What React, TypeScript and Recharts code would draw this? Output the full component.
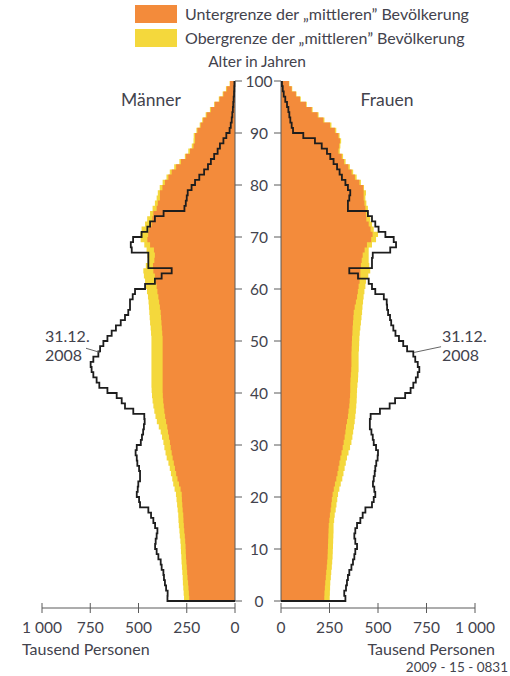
import { ComposedChart, Area, Line, XAxis, YAxis, ReferenceLine } from 'recharts'

// Altersjahre 0..99, je ein Wert pro Jahrgang (Tausend Personen)
const MEN_LOW = [
  237, 239, 241, 243, 246, 248, 250, 252, 254, 255,
  256, 258, 260, 263, 265, 267, 268, 271, 273, 275,
  276, 282, 290, 298, 305, 311, 317, 323, 328, 333,
  337, 342, 347, 351, 357, 362, 366, 369, 372, 374,
  375, 375, 375, 375, 375, 375, 375, 375, 375, 375,
  375, 377, 379, 381, 383, 385, 389, 393, 397, 402,
  406, 410, 415, 423, 425, 418, 415, 420, 440, 454,
  450, 445, 432, 428, 423, 406, 400, 389, 389, 376,
  363, 345, 328, 305, 280, 255, 233, 215, 207, 207,
  195, 178, 165, 147, 125, 105, 80, 60, 43, 26,
]
const MEN_HIGH = [
  264, 266, 268, 270, 271, 273, 275, 277, 278, 280,
  281, 283, 286, 288, 291, 293, 294, 297, 300, 303,
  306, 313, 320, 325, 332, 338, 345, 354, 360, 366,
  371, 378, 385, 395, 405, 412, 418, 423, 427, 430,
  432, 433, 433, 433, 433, 433, 433, 433, 433, 433,
  433, 435, 437, 440, 442, 444, 446, 448, 451, 456,
  461, 466, 472, 475, 462, 452, 454, 458, 470, 489,
  490, 484, 466, 455, 440, 427, 415, 406, 400, 390,
  375, 355, 338, 315, 288, 260, 242, 224, 215, 214,
  200, 183, 170, 152, 130, 108, 84, 64, 47, 28,
]
const MEN_2008 = [
  350, 349, 357, 363, 368, 371, 380, 385, 397, 406,
  414, 411, 406, 402, 414, 423, 435, 449, 492, 497,
  509, 504, 501, 492, 492, 497, 506, 509, 515, 509,
  488, 482, 476, 472, 468, 470, 527, 570, 587, 613,
  661, 703, 717, 734, 743, 748, 734, 708, 699, 682,
  661, 639, 617, 592, 570, 553, 544, 544, 530, 518,
  466, 415, 380, 328, 449, 449, 449, 535, 540, 528,
  484, 454, 440, 415, 370, 262, 255, 250, 245, 225,
  207, 185, 160, 140, 125, 108, 90, 78, 60, 45,
  28, 22, 17, 14, 11, 9, 7, 5, 4, 3,
]
const WOMEN_LOW = [
  223, 224, 226, 228, 231, 233, 236, 238, 240, 241,
  242, 243, 244, 245, 246, 249, 252, 256, 259, 262,
  266, 272, 278, 285, 291, 296, 301, 306, 312, 318,
  323, 328, 332, 335, 340, 345, 348, 352, 354, 356,
  357, 357, 358, 360, 362, 363, 363, 363, 364, 365,
  366, 368, 369, 371, 373, 375, 380, 386, 392, 396,
  400, 405, 409, 409, 412, 416, 421, 431, 443, 465,
  472, 462, 452, 440, 438, 435, 430, 426, 426, 424,
  404, 381, 364, 347, 325, 313, 296, 300, 304, 296,
  278, 253, 218, 189, 158, 129, 98, 77, 55, 41,
]
const WOMEN_HIGH = [
  251, 252, 253, 254, 257, 259, 262, 264, 266, 267,
  268, 269, 270, 271, 271, 274, 277, 282, 286, 290,
  294, 301, 308, 316, 322, 328, 334, 340, 348, 356,
  363, 368, 372, 376, 380, 383, 386, 388, 390, 391,
  392, 394, 397, 398, 400, 400, 400, 400, 402, 403,
  404, 406, 409, 412, 415, 418, 420, 423, 426, 430,
  435, 438, 450, 460, 455, 452, 452, 452, 469, 490,
  500, 478, 469, 460, 450, 448, 440, 435, 438, 428,
  412, 390, 372, 355, 333, 320, 303, 306, 310, 302,
  285, 260, 224, 194, 163, 133, 102, 80, 58, 43,
]
const WOMEN_2008 = [
  332, 326, 335, 340, 345, 352, 363, 371, 378, 383,
  392, 383, 378, 383, 392, 409, 421, 435, 469, 478,
  486, 481, 474, 478, 483, 486, 491, 498, 500, 490,
  478, 473, 466, 458, 458, 462, 510, 560, 588, 640,
  668, 682, 695, 705, 713, 705, 692, 682, 650, 630,
  608, 590, 579, 568, 562, 552, 547, 545, 530, 486,
  469, 452, 397, 352, 469, 469, 473, 563, 593, 581,
  538, 503, 486, 469, 448, 345, 345, 352, 357, 345,
  332, 314, 302, 289, 271, 254, 237, 210, 175, 115,
  62, 55, 48, 43, 38, 31, 22, 14, 9, 5,
]

const AGE_TICKS = [0, 10, 20, 30, 40, 50, 60, 70, 80, 90, 100]
const VALUE_TICKS = [0, 250, 500, 750, 1000]

const ORANGE = '#f38b3b'
const YELLOW = '#f4d83c'
const AXIS = '#5a5a5a'
const TEXT = '#43434d'
const FONT = 'Lato, "Noto Sans", sans-serif'

// each age group becomes two rows (lower and upper edge) so the outline is a step;
// the outline starts on the axis at age 0 like in the print version
function toSteps(low: number[], high: number[], pop: number[]) {
  const rows: { age: number; low: number; high: number; pop: number }[] = [
    { age: 0, low: 0, high: 0, pop: 0 },
  ]
  low.forEach((_, i) => {
    rows.push({ age: i, low: low[i], high: high[i], pop: pop[i] })
    rows.push({ age: i + 1, low: low[i], high: high[i], pop: pop[i] })
  })
  return rows
}

const menRows = toSteps(MEN_LOW, MEN_HIGH, MEN_2008)
const womenRows = toSteps(WOMEN_LOW, WOMEN_HIGH, WOMEN_2008)

const fmt = (v: number) => (v >= 1000 ? '1\u00a0000' : String(v))

function ValueTick(props: any) {
  const { x, y, payload } = props
  return (
    <g>
      <line x1={x} x2={x} y1={y - 5} y2={y + 5} stroke={AXIS} strokeWidth={1} />
      <text x={x} y={y + 25} textAnchor="middle" fill={TEXT} fontSize={15.5} fontFamily={FONT}>
        {fmt(payload.value)}
      </text>
    </g>
  )
}

function AgeTickLeft(props: any) {
  const { x, y, payload } = props
  return (
    <g>
      <line x1={x} x2={x + 7} y1={y} y2={y} stroke={AXIS} strokeWidth={1} />
      <text x={x + 24} y={y} dy="0.36em" textAnchor="middle" fill={TEXT} fontSize={15.5} fontFamily={FONT}>
        {payload.value}
      </text>
    </g>
  )
}

function AgeTickRight(props: any) {
  const { x, y } = props
  return <line x1={x - 7} x2={x} y1={y} y2={y} stroke={AXIS} strokeWidth={1} />
}

function Panel({ rows, side }: { rows: any[]; side: 'left' | 'right' }) {
  const left = side === 'left'
  return (
    <ComposedChart
      layout="vertical"
      width={left ? 290 : 270}
      height={676}
      data={rows}
      margin={left ? { top: 81, right: 15, bottom: 0, left: 42 } : { top: 81, right: 35, bottom: 0, left: 0 }}
    >
      <XAxis
        type="number"
        domain={[0, 1000]}
        ticks={VALUE_TICKS}
        reversed={left}
        interval={0}
        height={68}
        axisLine={{ stroke: AXIS }}
        tickLine={false}
        tickSize={0}
        tickMargin={0}
        tick={<ValueTick />}
      />
      <YAxis
        type="number"
        dataKey="age"
        domain={[0, 100]}
        ticks={AGE_TICKS}
        interval={0}
        reversed
        orientation={left ? 'right' : 'left'}
        width={left ? 40 : 41}
        padding={{ top: 0, bottom: 7 }}
        axisLine={false}
        tickLine={false}
        tickSize={0}
        tickMargin={0}
        tick={left ? <AgeTickLeft /> : <AgeTickRight />}
      />
      <Area type="linear" dataKey="high" fill={YELLOW} fillOpacity={1} stroke="none" isAnimationActive={false} />
      <Area type="linear" dataKey="low" fill={ORANGE} fillOpacity={1} stroke="none" isAnimationActive={false} />
      <ReferenceLine segment={[{ x: 0, y: 0 }, { x: 0, y: 100 }]} stroke={AXIS} strokeWidth={1} />
      <Line
        type="linear"
        dataKey="pop"
        stroke="#1d1d1d"
        strokeWidth={1.8}
        dot={false}
        activeDot={false}
        isAnimationActive={false}
      />
      {left ? (
        <ReferenceLine segment={[{ x: 772, y: 48.6 }, { x: 699, y: 47.8 }]} stroke="#666" strokeWidth={1} />
      ) : (
        <ReferenceLine segment={[{ x: 686, y: 47.8 }, { x: 825, y: 48.9 }]} stroke="#666" strokeWidth={1} />
      )}
    </ComposedChart>
  )
}

export default function App() {
  return (
    <div style={{ position: 'absolute', left: 0, top: 0, width: 510, height: 676, background: '#fff' }}>
      <div style={{ position: 'absolute', left: 0, top: 0 }}>
        <Panel rows={menRows} side="left" />
      </div>
      <div style={{ position: 'absolute', left: 240, top: 0 }}>
        <Panel rows={womenRows} side="right" />
      </div>
      <svg
        width={510}
        height={676}
        style={{ position: 'absolute', left: 0, top: 0, pointerEvents: 'none' }}
        fontFamily={FONT}
        fill={TEXT}
      >
        <rect x={135} y={5} width={42} height={18} fill={ORANGE} />
        <rect x={135} y={29} width={42} height={18} fill={YELLOW} />
        <text x={185} y={19.5} fontSize={16}>Untergrenze der „mittleren” Bevölkerung</text>
        <text x={185} y={43.5} fontSize={16}>Obergrenze der „mittleren” Bevölkerung</text>
        <text x={257} y={66.5} fontSize={15.5} textAnchor="middle">Alter in Jahren</text>
        <text x={151} y={106} fontSize={17.5} textAnchor="middle">Männer</text>
        <text x={387} y={106} fontSize={17.5} textAnchor="middle">Frauen</text>
        <text x={45} y={342} fontSize={16}>31.12.</text>
        <text x={45} y={361} fontSize={16}>2008</text>
        <text x={442} y={342} fontSize={16}>31.12.</text>
        <text x={442} y={361} fontSize={16}>2008</text>
        <text x={22} y={655} fontSize={16}>Tausend Personen</text>
        <text x={495} y={655} fontSize={16} textAnchor="end">Tausend Personen</text>
        <text x={508} y={672} fontSize={13.5} textAnchor="end">2009 - 15 - 0831</text>
      </svg>
    </div>
  )
}
